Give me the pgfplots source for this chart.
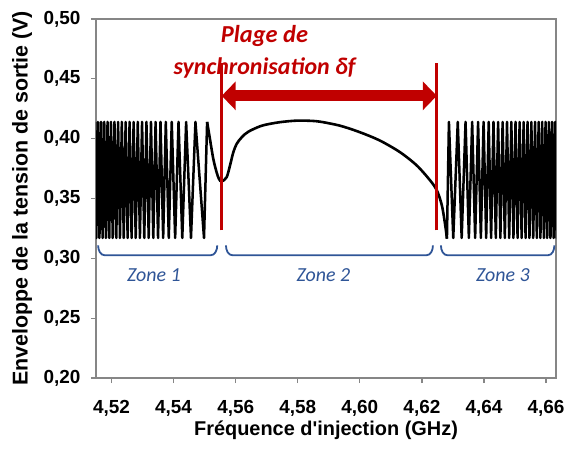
\documentclass[border=0pt]{standalone}
\usepackage{pgfplots}
\pgfplotsset{compat=1.18}
\usepackage{fontspec}
\setmainfont{Liberation Sans}
\newfontfamily\calibri{Carlito}
\usetikzlibrary{arrows.meta}
\definecolor{darkred}{RGB}{192,0,0}
\definecolor{zoneblue}{RGB}{47,85,151}
\definecolor{axgray}{RGB}{134,134,134}

\begin{document}
\begin{tikzpicture}
\path[use as bounding box] (-96bp,-86bp) rectangle (473bp,378bp);
\begin{axis}[
  scale only axis, width=460bp, height=359bp,
  xmin=4.515, xmax=4.6632, ymin=0.2, ymax=0.5,
  xtick={4.52,4.54,4.56,4.58,4.60,4.62,4.64,4.66},
  ytick={0.2,0.25,0.3,0.35,0.4,0.45,0.5},
  tick pos=left, tick align=outside, major tick length=5bp,
  axis line style={axgray, line width=1.2bp},
  tick style={axgray, line width=1.2bp},
  /pgf/number format/use comma,
  /pgf/number format/fixed,
  /pgf/number format/fixed zerofill,
  /pgf/number format/precision=2,
  /pgf/number format/assume math mode=true,
  tick label style={font=\fontsize{19}{21}\selectfont\bfseries, black},
  xticklabel style={yshift=-14bp},
  yticklabel style={xshift=-7bp},
  xlabel={Fréquence d\textquotesingle injection (GHz)},
  ylabel={Enveloppe de la tension de sortie (V)},
  xlabel style={font=\fontsize{20}{22}\selectfont\bfseries, at={(axis description cs:0.5,-0.145)}, anchor=center},
  ylabel style={font=\fontsize{21.5}{23}\selectfont\bfseries, at={(axis description cs:-0.1609,0.5)}, anchor=center},
]
% zone 1
\addplot[black, line width=2.5bp, line join=round] coordinates {
(4.51461,0.414)(4.51511,0.317)(4.5156,0.414)(4.51611,0.317)(4.51661,0.414)(4.51713,0.317)
(4.51765,0.414)(4.51819,0.317)(4.51872,0.414)(4.51927,0.317)(4.51982,0.414)(4.52039,0.317)
(4.52095,0.414)(4.52154,0.317)(4.52212,0.414)(4.52272,0.317)(4.52332,0.414)(4.52394,0.317)
(4.52455,0.414)(4.52519,0.317)(4.52582,0.414)(4.52647,0.317)(4.52712,0.414)(4.52779,0.317)
(4.52846,0.414)(4.52915,0.317)(4.52984,0.414)(4.53055,0.317)(4.53125,0.414)(4.53198,0.317)
(4.53271,0.414)(4.53346,0.317)(4.5342,0.414)(4.53499,0.317)(4.53578,0.414)(4.53664,0.317)
(4.53749,0.414)(4.53845,0.317)(4.5394,0.414)(4.5405,0.317)(4.54159,0.414)(4.5428,0.317)
(4.54404,0.414)(4.5456,0.317)(4.54704,0.414)(4.5498,0.317)(4.5508,0.414)
};
% zone 2
\addplot[black, line width=2.6bp, smooth, tension=0.5] coordinates {
(4.5508,0.414)(4.55171,0.3997)(4.55279,0.3831)(4.55386,0.3719)(4.55461,0.3664)(4.55547,0.3642)
(4.55709,0.3678)(4.55816,0.3775)(4.55924,0.3886)(4.56031,0.3956)(4.56193,0.4011)(4.56407,0.4058)
(4.56838,0.4108)(4.57375,0.4136)(4.57913,0.4150)(4.5832,0.4150)(4.58719,0.4142)(4.59365,0.4108)
(4.6001,0.4053)(4.60655,0.3983)(4.613,0.3886)(4.61839,0.3775)(4.62268,0.365)(4.62484,0.3567)
(4.62645,0.344)(4.62752,0.3275)(4.62806,0.3164)
};
% zone 3
\addplot[black, line width=2.5bp, line join=round] coordinates {
(4.62806,0.3164)(4.6287,0.414)(4.6301,0.317)(4.63155,0.414)(4.63281,0.317)(4.63406,0.414)
(4.63513,0.317)(4.63619,0.414)(4.63715,0.317)(4.6381,0.414)(4.63899,0.317)(4.63987,0.414)
(4.6407,0.317)(4.64152,0.414)(4.64229,0.317)(4.64306,0.414)(4.64381,0.317)(4.64455,0.414)
(4.64528,0.317)(4.646,0.414)(4.64671,0.317)(4.64742,0.414)(4.64812,0.317)(4.64881,0.414)
(4.64949,0.317)(4.65016,0.414)(4.65082,0.317)(4.65148,0.414)(4.65213,0.317)(4.65277,0.414)
(4.6534,0.317)(4.65403,0.414)(4.65465,0.317)(4.65526,0.414)(4.65586,0.317)(4.65645,0.414)
(4.65703,0.317)(4.65761,0.414)(4.65818,0.317)(4.65874,0.414)(4.65929,0.317)(4.65984,0.414)
(4.66037,0.317)(4.6609,0.414)(4.66142,0.317)(4.66194,0.414)(4.66244,0.317)(4.66294,0.414)
(4.66343,0.317)(4.66392,0.414)(4.66441,0.317)(4.6649,0.414)
};
% locking range
\draw[darkred, line width=3bp] (axis cs:4.5555,0.3233) -- (axis cs:4.5555,0.4636);
\draw[darkred, line width=3bp] (axis cs:4.6248,0.3233) -- (axis cs:4.6248,0.4636);
\draw[darkred, line width=11bp, {Triangle[length=14bp,width=28bp]}-{Triangle[length=14bp,width=28bp]}]
  (axis cs:4.5555,0.4358) -- (axis cs:4.6248,0.4358);
\node[anchor=base, text=darkred, font=\calibri\bfseries\itshape\fontsize{24.5}{26}\selectfont]
  at (axis cs:4.5693,0.4803) {Plage de};
\node[anchor=base, text=darkred, font=\calibri\bfseries\itshape\fontsize{24}{26}\selectfont]
  at (axis cs:4.5693,0.4539) {synchronisation δf};
% zones
\draw[zoneblue, line width=1.8bp] (axis cs:4.51568,0.3108) to[out=-90,in=180] (axis cs:4.5179,0.3025)
  -- (axis cs:4.55184,0.3025) to[out=0,in=-90] (axis cs:4.55406,0.3108);
\draw[zoneblue, line width=1.8bp] (axis cs:4.55687,0.3108) to[out=-90,in=180] (axis cs:4.55907,0.3025)
  -- (axis cs:4.62135,0.3025) to[out=0,in=-90] (axis cs:4.62355,0.3108);
\draw[zoneblue, line width=1.8bp] (axis cs:4.62613,0.3108) to[out=-90,in=180] (axis cs:4.62833,0.3025)
  -- (axis cs:4.66048,0.3025) to[out=0,in=-90] (axis cs:4.66268,0.3108);
\node[anchor=base, text=zoneblue, font=\calibri\itshape\fontsize{20}{22}\selectfont]
  at (axis cs:4.53365,0.2803) {Zone 1};
\node[anchor=base, text=zoneblue, font=\calibri\itshape\fontsize{20}{22}\selectfont]
  at (axis cs:4.58826,0.2803) {Zone 2};
\node[anchor=base, text=zoneblue, font=\calibri\itshape\fontsize{20}{22}\selectfont]
  at (axis cs:4.64613,0.2803) {Zone 3};
\end{axis}
\end{tikzpicture}
\end{document}
